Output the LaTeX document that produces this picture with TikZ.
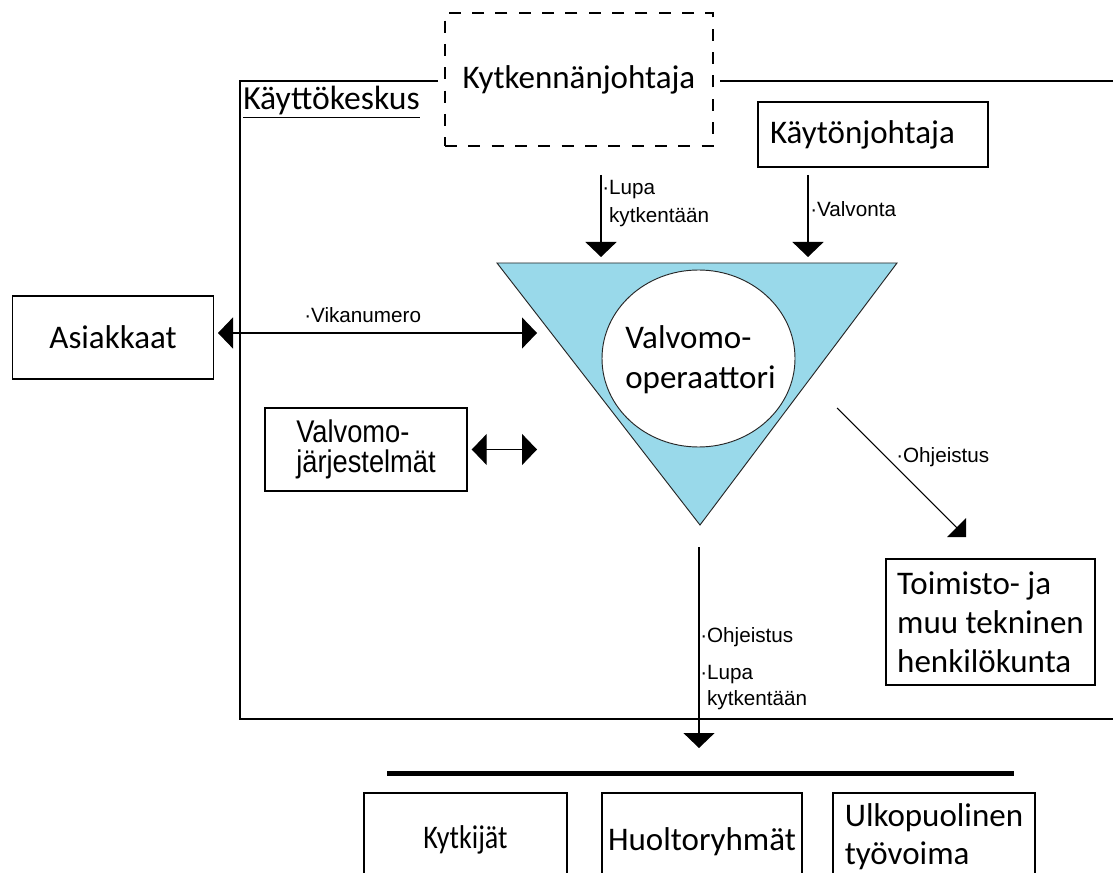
\documentclass[tikz,border=0pt]{standalone}
\usepackage{fontspec}
\usepackage{graphicx}
\setmainfont{Carlito}
\newfontfamily\arialf{Liberation Sans}
\usetikzlibrary{arrows.meta,shapes.geometric}
\newcommand\pxu{0.75pt}
\newcommand\nx[2]{\scalebox{#1}[1]{#2}}
\definecolor{triblue}{RGB}{153,217,234}
\tikzset{
  box/.style={draw, line width=1.1pt, rectangle, inner sep=0pt, font=\fontsize{24.75pt}{29.5pt}\selectfont},
  lbl/.style={font=\arialf\fontsize{15.5pt}{19.5pt}\selectfont, inner sep=0pt, anchor=base west},
  arr/.style={line width=1pt, -{Triangle[length=11.25pt,width=23.25pt]}},
  dbl/.style={line width=1pt, {Triangle[length=11.25pt,width=23.25pt]}-{Triangle[length=11.25pt,width=23.25pt]}},
  diag/.style={line width=0.8pt, -{Triangle[length=10pt,width=20pt]}},
  frame/.style={line width=1.3pt},
}
\begin{document}
\begin{tikzpicture}[x=0.75pt,y=-0.75pt]
\useasboundingbox (0,0) rectangle (1113,873);
\clip (0,0) rectangle (1113,873);
\fill[white] (0,0) rectangle (1113,873);
% Käyttökeskus frame
\draw[frame] (438,81) -- (240,81) -- (240,719) -- (1125,719);
\draw[frame] (720,81) -- (1125,81);
\node[anchor=base west, inner sep=0pt, font=\fontsize{25.25pt}{29.5pt}\selectfont] (kk) at (243,110) {\underline{Käyttökeskus}};
% top boxes
\node[box, dash pattern=on 9pt off 8.5pt, minimum width=268*\pxu, minimum height=133*\pxu] (kj) at (579,79.5) {Kytkennänjohtaja};
\node[box, minimum width=230*\pxu, minimum height=65*\pxu, text width=206*\pxu, align=left] (kaj) at (873,134.5) {Käytönjohtaja};
% triangle and operator
\filldraw[fill=triblue, draw=black!85, line width=0.7pt] (497,263) -- (897,263) -- (700,525) -- cycle;
\node[draw=black!85, ellipse, fill=white, line width=0.7pt, minimum width=193*\pxu, minimum height=177*\pxu, inner sep=0pt] (op) at (698.5,358.5) {};
\node[inner sep=0pt, align=left, font=\fontsize{24.75pt}{30pt}\selectfont] (opt) at ([xshift=1.5pt,yshift=-1pt]op.center) {Valvomo-\\operaattori};
% left boxes
\node[box, minimum width=201.5*\pxu, minimum height=83*\pxu] (as) at (113,337.5) {Asiakkaat};
\node[box, minimum width=202*\pxu, minimum height=83*\pxu, align=left, font=\arialf\fontsize{23.5pt}{23pt}\selectfont] (vj) at (366,449.5) {\nx{0.87}{Valvomo-}\\\nx{0.87}{järjestelmät}};
% right box
\node[box, minimum width=209*\pxu, minimum height=126*\pxu, align=left, font=\fontsize{24.75pt}{29.25pt}\selectfont] (to) at (990.5,622) {Toimisto- ja\\muu tekninen\\henkilökunta};
% bottom
\draw[line width=3.75pt] (387,773) -- (1014,773);
\node[box, minimum width=203*\pxu, minimum height=94*\pxu] (ky) at (465.5,840) {\nx{0.85}{Kytkijät}};
\node[box, minimum width=200*\pxu, minimum height=98*\pxu] (hu) at (702,842) {Huoltoryhmät};
\node[box, minimum width=202*\pxu, minimum height=88*\pxu, align=left, font=\fontsize{24.75pt}{28.5pt}\selectfont] (ul) at (934,837) {Ulkopuolinen\\työvoima};
% arrow coordinates
\coordinate (l1s) at (601,175); \coordinate (l1e) at (601,257);
\coordinate (v1s) at (808,175); \coordinate (v1e) at (808,257);
\coordinate (vka) at (218,333); \coordinate (vkb) at (537,333);
\coordinate (vjb) at (537,449.5);
\coordinate (ods) at (837,408); \coordinate (ode) at (966,537);
\coordinate (dns) at (699,547); \coordinate (dne) at (699,748);
% connectors
\draw[arr] (l1s) -- (l1e);
\draw[arr] (v1s) -- (v1e);
\draw[dbl] (vka) -- (vkb);
\draw[dbl, shorten <=3pt] (vj.east) -- (vjb);
\draw[diag] (ods) -- (ode);
\draw[arr] (dns) -- (dne);
% labels
\node[lbl] (t1) at (602,195) {\begin{tabular}[t]{@{}l@{}l@{}}·&Lupa\\[1.5pt]&kytkentään\end{tabular}};
\node[lbl] (t2) at (810,217) {·Valvonta};
\node[lbl] (t3) at (304,323) {·Vikanumero};
\node[lbl] (t4) at (896,462) {·Ohjeistus};
\node[lbl] (t5) at (700,642) {\begin{tabular}[t]{@{}l@{}l@{}}·&Ohjeistus\\[8.25pt]·&Lupa\\&kytkentään\end{tabular}};
\end{tikzpicture}
\end{document}
